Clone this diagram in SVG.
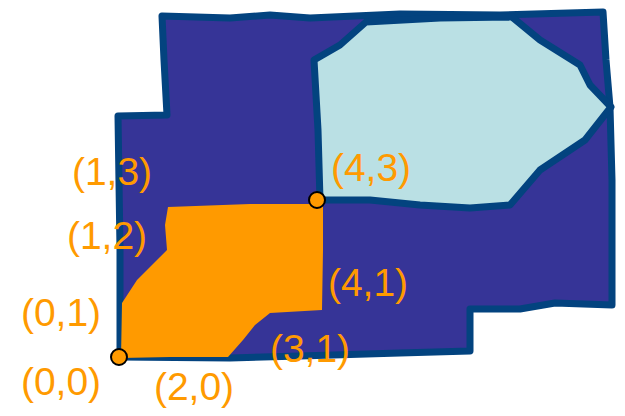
<svg xmlns="http://www.w3.org/2000/svg" width="625" height="416" viewBox="0 0 625 416">
<style>
.region{stroke:#03437f;stroke-width:7;stroke-linejoin:round;stroke-linecap:round}
.lbl{font-family:"Liberation Sans","DejaVu Sans",sans-serif;font-size:39px;fill:#ff9a00;text-anchor:middle}
.pt{fill:#ff9a00;stroke:#000;stroke-width:2}
</style>
<rect width="625" height="416" fill="#fff"/>
<g id="outer">
<path class="region" fill="#363497" d="M162,16 L230,18 L270,15 L310,18 L400,14 L500,15 L603,12 L606,60 L610,107 L612,180 L612,305 L555,303 L520,309 L470,309 L470,351 L400,353 L300,356 L230,358 L120,357 L120,250 L118,116 L167,115 L164,60 Z"/>
</g>
<g id="light">
<path class="region" fill="#bae0e4" d="M314,60 L340,45 L366,22 L440,18 L512,17 L540,40 L580,65 L590,85 L611,107 L585,140 L540,170 L510,205 L470,208 L420,205 L370,200 L320,200 L318,130 Z"/>
</g>
<g id="orange">
<path fill="#ff9a00" d="M168,207 L250,204 L323,204 L323,250 L322,310 L270,313 L255,325 L243,340 L228,357 L170,357 L121,358 L122,303 L137,280 L160,257 L167,250 L165,225 Z"/>
</g>
<g id="points">
<circle class="pt" cx="317" cy="200" r="8"/>
<circle class="pt" cx="119" cy="357" r="8"/>
</g>
<g id="labels">
<text class="lbl" x="112" y="185">(1,3)</text>
<text class="lbl" x="107" y="249">(1,2)</text>
<text class="lbl" x="61" y="326">(0,1)</text>
<text class="lbl" x="61" y="395">(0,0)</text>
<text class="lbl" x="194" y="400">(2,0)</text>
<text class="lbl" x="310" y="362">(3,1)</text>
<text class="lbl" x="368" y="296">(4,1)</text>
<text class="lbl" x="371" y="181">(4,3)</text>
</g>
</svg>
